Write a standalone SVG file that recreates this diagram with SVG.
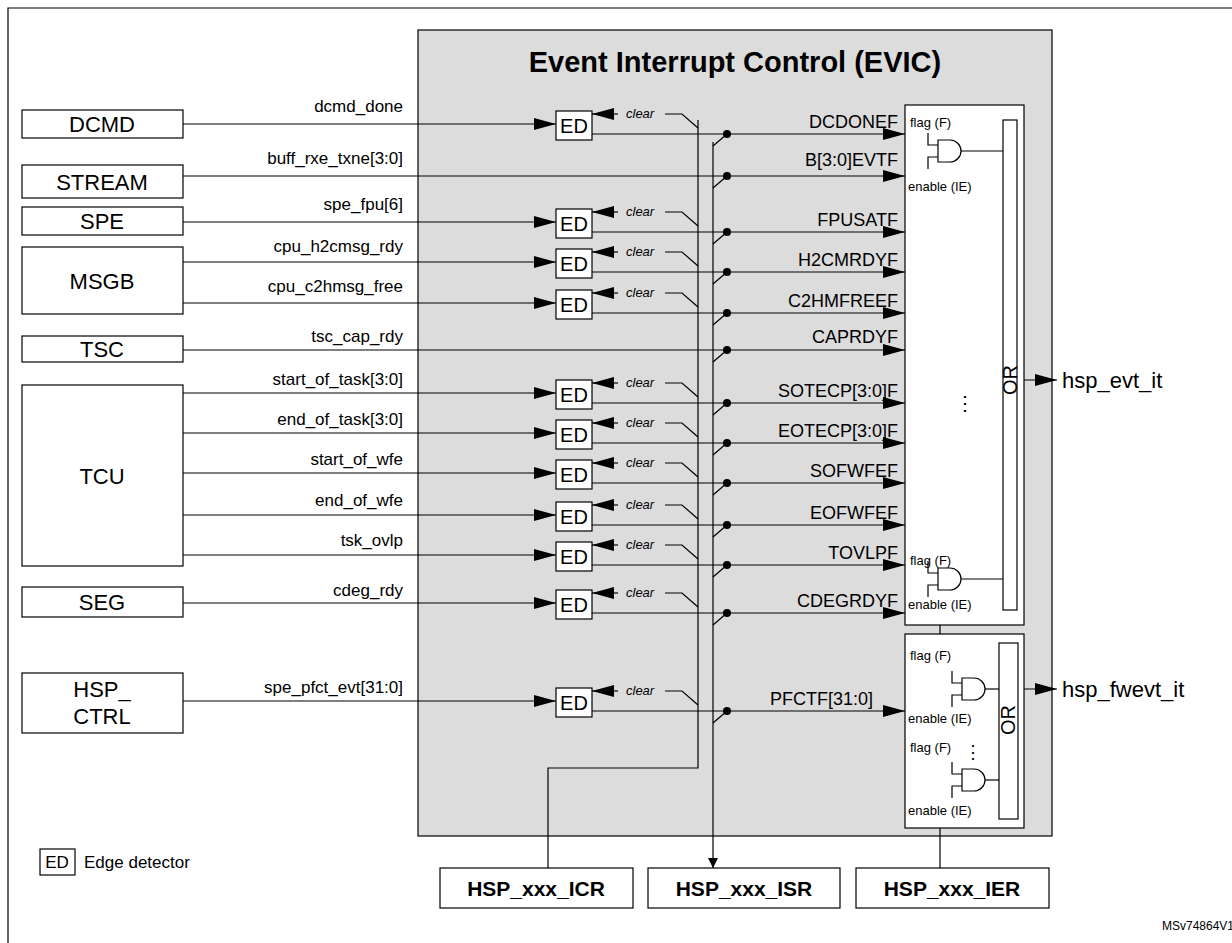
<svg xmlns="http://www.w3.org/2000/svg" width="1232" height="943" viewBox="0 0 1232 943">
<defs>
<marker id="a" markerWidth="10" markerHeight="10" refX="10" refY="5" orient="auto" markerUnits="userSpaceOnUse"><path d="M0 0L10 5L0 10z" fill="#000"/></marker>
<marker id="b" markerWidth="22" markerHeight="14" refX="22" refY="7" orient="auto" markerUnits="userSpaceOnUse"><path d="M0 1L22 7L0 13z" fill="#000"/></marker>
<g id="and"><path d="M-10 -18V-6H0M-10 18V6H0" fill="none" stroke="#000" stroke-width="1.2"/><path d="M0 -11H12A11 11 0 0 1 12 11H0Z" fill="#fff" stroke="#000" stroke-width="1.2"/></g>
</defs>
<style>
text{font-family:"Liberation Sans",Arial,sans-serif;fill:#000}
.blk{fill:#fff;stroke:#000;stroke-width:1.2}
.bt{font-size:22px;text-anchor:middle}
.sl{font-size:17px;text-anchor:end}
.ol{font-size:18px;text-anchor:end}
.cl{font-size:13px;font-style:italic}
.sm{font-size:13px}
.ln{fill:none;stroke:#000;stroke-width:1.2}
.ed{fill:#fff;stroke:#000;stroke-width:1.2}
.edt{font-size:20px;text-anchor:middle}
.reg{font-size:21px;font-weight:bold;text-anchor:middle}
</style>
<rect x="0" y="0" width="1232" height="943" fill="#fff"/>
<path d="M8 943V8H1232" class="ln" stroke-width="1.5"/>
<rect x="418" y="30" width="634" height="806" fill="#dcdcdc" stroke="#000" stroke-width="1.2"/>
<text x="735" y="72" font-size="29" font-weight="bold" text-anchor="middle">Event Interrupt Control (EVIC)</text>

<g id="DCMD"><rect class="blk" x="22" y="110" width="161" height="28"/><text class="bt" x="102" y="132">DCMD</text></g>
<g id="STREAM"><rect class="blk" x="22" y="165" width="161" height="33"/><text class="bt" x="102" y="190">STREAM</text></g>
<g id="SPE"><rect class="blk" x="22" y="207" width="161" height="28"/><text class="bt" x="102" y="229">SPE</text></g>
<g id="MSGB"><rect class="blk" x="22" y="247" width="161" height="67"/><text class="bt" x="102" y="289">MSGB</text></g>
<g id="TSC"><rect class="blk" x="22" y="336" width="161" height="26"/><text class="bt" x="102" y="357">TSC</text></g>
<g id="TCU"><rect class="blk" x="22" y="385" width="161" height="181"/><text class="bt" x="102" y="484">TCU</text></g>
<g id="SEG"><rect class="blk" x="22" y="587" width="161" height="30"/><text class="bt" x="102" y="610">SEG</text></g>
<g id="HSP_CTRL"><rect class="blk" x="22" y="673" width="161" height="60"/><text class="bt" x="102" y="697">HSP_</text><text class="bt" x="102" y="724">CTRL</text></g>

<g id="flagbox1"><rect class="blk" x="905" y="105" width="119" height="520"/><rect class="blk" x="1003" y="120" width="14" height="490"/>
<text x="1010" y="380" font-size="20" text-anchor="middle" transform="rotate(-90 1010 380)" dy="7">OR</text>
<text class="sm" x="910" y="127">flag (F)</text><text class="sm" x="908" y="191">enable (IE)</text>
<use href="#and" x="938" y="151"/><path class="ln" d="M961 151H1003"/>
<text x="965" y="410" font-size="20" text-anchor="middle">⋮</text>
<text class="sm" x="910" y="565">flag (F)</text><text class="sm" x="908" y="609">enable (IE)</text>
<use href="#and" x="938" y="579"/><path class="ln" d="M961 579H1003"/>
</g>
<g id="flagbox2"><rect class="blk" x="905" y="634" width="119" height="194"/><rect class="blk" x="999" y="643" width="19" height="176"/>
<text x="1008" y="720" font-size="20" text-anchor="middle" transform="rotate(-90 1008 720)" dy="7">OR</text>
<text class="sm" x="910" y="660">flag (F)</text><text class="sm" x="908" y="723">enable (IE)</text>
<use href="#and" x="962" y="689"/><path class="ln" d="M985 689H999"/>
<text class="sm" x="910" y="752">flag (F)</text><text x="973" y="758" font-size="18" text-anchor="middle">⋮</text><text class="sm" x="908" y="815">enable (IE)</text>
<use href="#and" x="962" y="780"/><path class="ln" d="M985 780H999"/>
</g>

<g id="ICR"><rect class="blk" x="440" y="868" width="193" height="40"/><text class="reg" x="536" y="896">HSP_xxx_ICR</text></g>
<g id="ISR"><rect class="blk" x="648" y="868" width="192" height="40"/><text class="reg" x="744" y="896">HSP_xxx_ISR</text></g>
<g id="IER"><rect class="blk" x="856" y="868" width="193" height="40"/><text class="reg" x="952" y="896">HSP_xxx_IER</text></g>

<g id="legend"><rect class="blk" x="40" y="849" width="35" height="26"/><text x="57" y="868" font-size="17" text-anchor="middle">ED</text><text x="84" y="868" font-size="17">Edge detector</text></g>
<text x="1162" y="930" font-size="12">MSv74864V1</text>

<g id="connectors">
<path class="ln" d="M1024 380H1057" marker-end="url(#b)"/><text x="1062" y="388" font-size="22">hsp_evt_it</text>
<path class="ln" d="M1024 689H1057" marker-end="url(#b)"/><text x="1062" y="697" font-size="22">hsp_fwevt_it</text>
<path class="ln" d="M940 625V634M940 828V868"/>
<path class="ln" d="M698 120V768H548V868"/>
<path class="ln" d="M713 142V868" marker-end="url(#a)"/>

<g id="rows">
<path class="ln" d="M183 124H556" marker-end="url(#b)"/><rect class="ed" x="556" y="111" width="36" height="29"/><text class="edt" x="574" y="133">ED</text>
<path class="ln" d="M592 134H905" marker-end="url(#b)"/><path class="ln" d="M618 114H592" marker-end="url(#b)"/><text class="cl" x="626" y="118">clear</text><path class="ln" d="M665 114H682L698 128"/><path class="ln" d="M713 146L727 134"/><circle cx="727" cy="134" r="4"/>
<text class="sl" x="403" y="112">dcmd_done</text><text class="ol" x="898" y="128">DCDONEF</text>

<path class="ln" d="M183 176H905" marker-end="url(#b)"/><path class="ln" d="M713 188L727 176"/><circle cx="727" cy="176" r="4"/>
<text class="sl" x="403" y="164">buff_rxe_txne[3:0]</text><text class="ol" x="898" y="166">B[3:0]EVTF</text>

<path class="ln" d="M183 222H556" marker-end="url(#b)"/><rect class="ed" x="556" y="209" width="36" height="29"/><text class="edt" x="574" y="231">ED</text>
<path class="ln" d="M592 232H905" marker-end="url(#b)"/><path class="ln" d="M618 212H592" marker-end="url(#b)"/><text class="cl" x="626" y="216">clear</text><path class="ln" d="M665 212H682L698 226"/><path class="ln" d="M713 244L727 232"/><circle cx="727" cy="232" r="4"/>
<text class="sl" x="403" y="210">spe_fpu[6]</text><text class="ol" x="898" y="226">FPUSATF</text>

<path class="ln" d="M183 262H556" marker-end="url(#b)"/><rect class="ed" x="556" y="249" width="36" height="29"/><text class="edt" x="574" y="271">ED</text>
<path class="ln" d="M592 272H905" marker-end="url(#b)"/><path class="ln" d="M618 252H592" marker-end="url(#b)"/><text class="cl" x="626" y="256">clear</text><path class="ln" d="M665 252H682L698 266"/><path class="ln" d="M713 284L727 272"/><circle cx="727" cy="272" r="4"/>
<text class="sl" x="403" y="252">cpu_h2cmsg_rdy</text><text class="ol" x="898" y="266">H2CMRDYF</text>

<path class="ln" d="M183 303H556" marker-end="url(#b)"/><rect class="ed" x="556" y="290" width="36" height="29"/><text class="edt" x="574" y="312">ED</text>
<path class="ln" d="M592 313H905" marker-end="url(#b)"/><path class="ln" d="M618 293H592" marker-end="url(#b)"/><text class="cl" x="626" y="297">clear</text><path class="ln" d="M665 293H682L698 307"/><path class="ln" d="M713 325L727 313"/><circle cx="727" cy="313" r="4"/>
<text class="sl" x="403" y="292">cpu_c2hmsg_free</text><text class="ol" x="898" y="307">C2HMFREEF</text>

<path class="ln" d="M183 350H905" marker-end="url(#b)"/><path class="ln" d="M713 362L727 350"/><circle cx="727" cy="350" r="4"/>
<text class="sl" x="403" y="342">tsc_cap_rdy</text><text class="ol" x="898" y="343">CAPRDYF</text>

<path class="ln" d="M183 393H556" marker-end="url(#b)"/><rect class="ed" x="556" y="380" width="36" height="29"/><text class="edt" x="574" y="402">ED</text>
<path class="ln" d="M592 403H905" marker-end="url(#b)"/><path class="ln" d="M618 383H592" marker-end="url(#b)"/><text class="cl" x="626" y="387">clear</text><path class="ln" d="M665 383H682L698 397"/><path class="ln" d="M713 415L727 403"/><circle cx="727" cy="403" r="4"/>
<text class="sl" x="403" y="385">start_of_task[3:0]</text><text class="ol" x="898" y="397">SOTECP[3:0]F</text>

<path class="ln" d="M183 433H556" marker-end="url(#b)"/><rect class="ed" x="556" y="420" width="36" height="29"/><text class="edt" x="574" y="442">ED</text>
<path class="ln" d="M592 443H905" marker-end="url(#b)"/><path class="ln" d="M618 423H592" marker-end="url(#b)"/><text class="cl" x="626" y="427">clear</text><path class="ln" d="M665 423H682L698 437"/><path class="ln" d="M713 455L727 443"/><circle cx="727" cy="443" r="4"/>
<text class="sl" x="403" y="425">end_of_task[3:0]</text><text class="ol" x="898" y="437">EOTECP[3:0]F</text>

<path class="ln" d="M183 473H556" marker-end="url(#b)"/><rect class="ed" x="556" y="460" width="36" height="29"/><text class="edt" x="574" y="482">ED</text>
<path class="ln" d="M592 483H905" marker-end="url(#b)"/><path class="ln" d="M618 463H592" marker-end="url(#b)"/><text class="cl" x="626" y="467">clear</text><path class="ln" d="M665 463H682L698 477"/><path class="ln" d="M713 495L727 483"/><circle cx="727" cy="483" r="4"/>
<text class="sl" x="403" y="465">start_of_wfe</text><text class="ol" x="898" y="477">SOFWFEF</text>

<path class="ln" d="M183 515H556" marker-end="url(#b)"/><rect class="ed" x="556" y="502" width="36" height="29"/><text class="edt" x="574" y="524">ED</text>
<path class="ln" d="M592 525H905" marker-end="url(#b)"/><path class="ln" d="M618 505H592" marker-end="url(#b)"/><text class="cl" x="626" y="509">clear</text><path class="ln" d="M665 505H682L698 519"/><path class="ln" d="M713 537L727 525"/><circle cx="727" cy="525" r="4"/>
<text class="sl" x="403" y="506">end_of_wfe</text><text class="ol" x="898" y="519">EOFWFEF</text>

<path class="ln" d="M183 555H556" marker-end="url(#b)"/><rect class="ed" x="556" y="542" width="36" height="29"/><text class="edt" x="574" y="564">ED</text>
<path class="ln" d="M592 565H905" marker-end="url(#b)"/><path class="ln" d="M618 545H592" marker-end="url(#b)"/><text class="cl" x="626" y="549">clear</text><path class="ln" d="M665 545H682L698 559"/><path class="ln" d="M713 577L727 565"/><circle cx="727" cy="565" r="4"/>
<text class="sl" x="403" y="546">tsk_ovlp</text><text class="ol" x="898" y="559">TOVLPF</text>

<path class="ln" d="M183 603H556" marker-end="url(#b)"/><rect class="ed" x="556" y="590" width="36" height="29"/><text class="edt" x="574" y="612">ED</text>
<path class="ln" d="M592 613H905" marker-end="url(#b)"/><path class="ln" d="M618 593H592" marker-end="url(#b)"/><text class="cl" x="626" y="597">clear</text><path class="ln" d="M665 593H682L698 607"/><path class="ln" d="M713 625L727 613"/><circle cx="727" cy="613" r="4"/>
<text class="sl" x="403" y="596">cdeg_rdy</text><text class="ol" x="898" y="607">CDEGRDYF</text>

<path class="ln" d="M183 701H556" marker-end="url(#b)"/><rect class="ed" x="556" y="688" width="36" height="29"/><text class="edt" x="574" y="710">ED</text>
<path class="ln" d="M592 711H905" marker-end="url(#b)"/><path class="ln" d="M618 691H592" marker-end="url(#b)"/><text class="cl" x="626" y="695">clear</text><path class="ln" d="M665 691H682L698 705"/><path class="ln" d="M713 723L727 711"/><circle cx="727" cy="711" r="4"/>
<text class="sl" x="403" y="693">spe_pfct_evt[31:0]</text><text class="ol" x="873" y="705">PFCTF[31:0]</text>
</g>
</g>
</svg>
